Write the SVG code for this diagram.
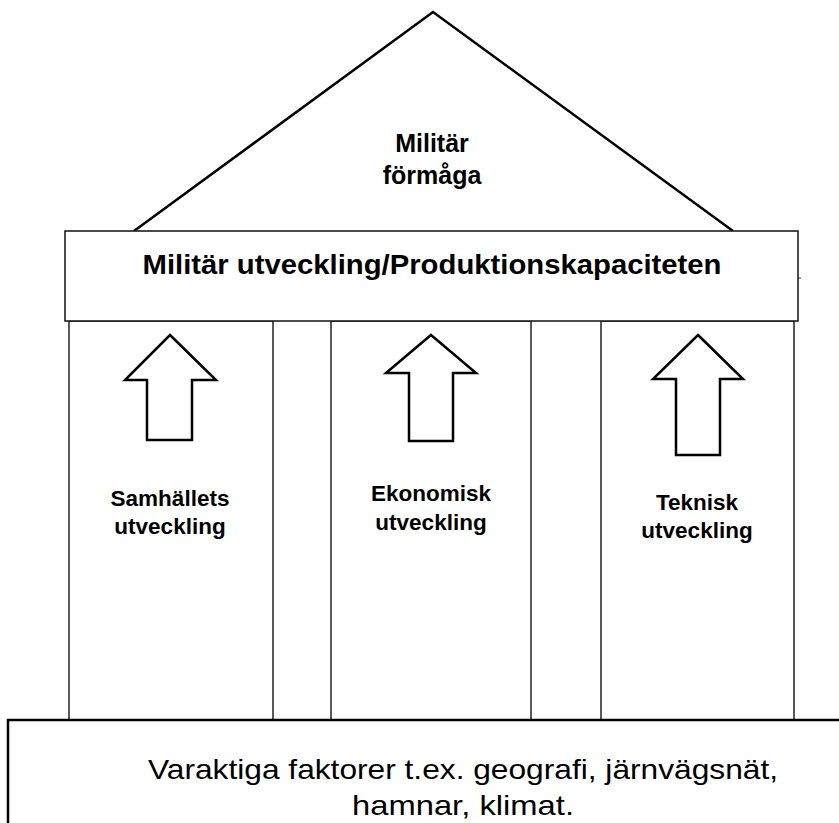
<svg xmlns="http://www.w3.org/2000/svg" width="839" height="823" viewBox="0 0 839 823">
<style>
.bg{fill:#fff}
.roof{fill:none;stroke:#000;stroke-width:2.5;stroke-linejoin:miter}
.box{fill:#fff;stroke:#111;stroke-width:1.5}
.pil{fill:#fff;stroke:#222;stroke-width:1.5}
.arr{fill:#fff;stroke:#000;stroke-width:2.5;stroke-linejoin:miter}
.b{font-family:"Liberation Sans",Arial,sans-serif;font-weight:bold;fill:#000;text-anchor:middle}
.l{font-size:22.5px}
.r{font-family:"Liberation Sans",Arial,sans-serif;fill:#000;text-anchor:middle}
</style>
<rect class="bg" x="0" y="0" width="839" height="823"/>
<g id="roof">
<polyline class="roof" points="134,231 433,12 733,231"/>
<text class="b" x="432" y="152" font-size="25">Militär</text>
<text class="b" x="432" y="184" font-size="25">förmåga</text>
</g>
<g id="pillar-left">
<rect class="pil" x="69" y="321" width="204" height="399"/>
<text class="b l" x="170" y="506">Samhällets</text>
<text class="b l" x="170" y="534">utveckling</text>
</g>
<g id="pillar-middle">
<rect class="pil" x="331" y="321" width="200" height="399"/>
<text class="b l" x="431" y="501">Ekonomisk</text>
<text class="b l" x="431" y="530">utveckling</text>
</g>
<g id="pillar-right">
<rect class="pil" x="601" y="321" width="193" height="399"/>
<text class="b l" x="697" y="510">Teknisk</text>
<text class="b l" x="697" y="538">utveckling</text>
</g>
<g id="beam">
<rect class="box" x="65" y="231" width="733" height="90"/>
<line x1="798" y1="278" x2="801" y2="278" stroke="#333" stroke-width="1"/>
<text class="b" x="432" y="274" font-size="28" textLength="579" lengthAdjust="spacingAndGlyphs">Militär utveckling/Produktionskapaciteten</text>
</g>
<g id="arrows">
<polygon id="arrow-left" class="arr" points="170,335 216,380 192,380 192,440 147,440 147,380 125,380"/>
<polygon id="arrow-middle" class="arr" points="431,335 476,373 453,373 453,441 409,441 409,373 386,373"/>
<polygon id="arrow-right" class="arr" points="698,335 743,379 720,379 720,455 676,455 676,379 653,379"/>
</g>
<g id="base">
<rect x="8" y="720" width="840" height="110" fill="#fff" stroke="#000" stroke-width="2.5"/>
<text class="r" x="463" y="779" font-size="28.5" textLength="630" lengthAdjust="spacingAndGlyphs">Varaktiga faktorer t.ex. geografi, järnvägsnät,</text>
<text class="r" x="463" y="815" font-size="28.5" textLength="222" lengthAdjust="spacingAndGlyphs">hamnar, klimat.</text>
</g>
</svg>
